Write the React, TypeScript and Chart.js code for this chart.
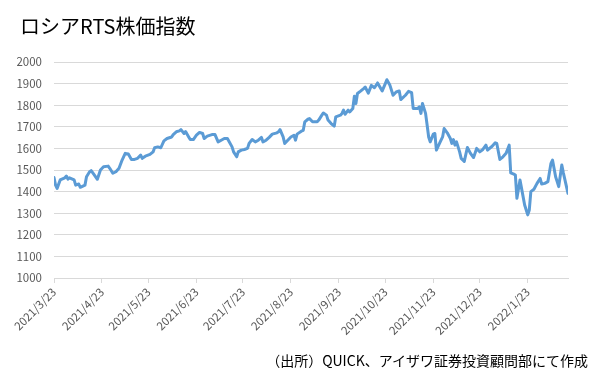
import React, { useEffect, useRef } from "react";
import { Chart, registerables } from "chart.js";

Chart.register(...registerables);

const chartTitle = "ロシアRTS株価指数";
const sourceNote = "（出所）QUICK、アイザワ証券投資顧問部にて作成";

const axisStart = "2021/3/23";
const axisEnd = "2022/2/18";

const tickLabels = [
  "2021/3/23", "2021/4/23", "2021/5/23", "2021/6/23", "2021/7/23", "2021/8/23",
  "2021/9/23", "2021/10/23", "2021/11/23", "2021/12/23", "2022/1/23",
];

const dates = [
  "2021/3/23", "2021/3/24", "2021/3/25", "2021/3/27", "2021/3/30", "2021/3/31", "2021/4/1", "2021/4/2",
  "2021/4/5", "2021/4/6", "2021/4/8", "2021/4/9", "2021/4/12", "2021/4/13", "2021/4/15", "2021/4/16",
  "2021/4/18", "2021/4/20", "2021/4/22", "2021/4/24", "2021/4/27", "2021/4/28", "2021/4/30", "2021/5/2",
  "2021/5/4", "2021/5/6", "2021/5/8", "2021/5/10", "2021/5/12", "2021/5/14", "2021/5/16", "2021/5/18",
  "2021/5/19", "2021/5/21", "2021/5/24", "2021/5/26", "2021/5/27", "2021/5/29", "2021/5/31", "2021/6/2",
  "2021/6/4", "2021/6/7", "2021/6/8", "2021/6/10", "2021/6/12", "2021/6/13", "2021/6/15", "2021/6/16",
  "2021/6/18", "2021/6/19", "2021/6/21", "2021/6/23", "2021/6/25", "2021/6/27", "2021/6/28", "2021/6/30",
  "2021/7/3", "2021/7/5", "2021/7/7", "2021/7/9", "2021/7/11", "2021/7/13", "2021/7/16", "2021/7/17",
  "2021/7/19", "2021/7/20", "2021/7/22", "2021/7/24", "2021/7/26", "2021/7/27", "2021/7/29", "2021/7/31",
  "2021/8/2", "2021/8/4", "2021/8/5", "2021/8/7", "2021/8/9", "2021/8/11", "2021/8/14", "2021/8/15",
  "2021/8/16", "2021/8/18", "2021/8/19", "2021/8/21", "2021/8/23", "2021/8/25", "2021/8/26", "2021/8/27",
  "2021/8/30", "2021/8/31", "2021/9/1", "2021/9/3", "2021/9/4", "2021/9/6", "2021/9/9", "2021/9/10",
  "2021/9/12", "2021/9/13", "2021/9/15", "2021/9/16", "2021/9/18", "2021/9/20", "2021/9/21", "2021/9/24",
  "2021/9/25", "2021/9/26", "2021/9/27", "2021/9/29", "2021/9/30", "2021/10/2", "2021/10/3", "2021/10/4",
  "2021/10/5", "2021/10/7", "2021/10/9", "2021/10/10", "2021/10/12", "2021/10/14", "2021/10/16", "2021/10/18",
  "2021/10/21", "2021/10/23", "2021/10/24", "2021/10/26", "2021/10/28", "2021/10/30", "2021/11/1", "2021/11/2",
  "2021/11/5", "2021/11/7", "2021/11/9", "2021/11/10", "2021/11/13", "2021/11/14", "2021/11/15", "2021/11/16",
  "2021/11/18", "2021/11/19", "2021/11/20", "2021/11/21", "2021/11/23", "2021/11/24", "2021/11/25", "2021/11/27",
  "2021/11/29", "2021/11/30", "2021/12/2", "2021/12/4", "2021/12/5", "2021/12/6", "2021/12/7", "2021/12/8",
  "2021/12/10", "2021/12/11", "2021/12/13", "2021/12/15", "2021/12/17", "2021/12/19", "2021/12/21", "2021/12/23",
  "2021/12/25", "2021/12/27", "2021/12/28", "2021/12/31", "2022/1/2", "2022/1/3", "2022/1/5", "2022/1/7",
  "2022/1/9", "2022/1/11", "2022/1/12", "2022/1/14", "2022/1/15", "2022/1/16", "2022/1/18", "2022/1/19",
  "2022/1/21", "2022/1/23", "2022/1/24", "2022/1/25", "2022/1/27", "2022/1/29", "2022/1/31", "2022/2/1",
  "2022/2/3", "2022/2/5", "2022/2/7", "2022/2/8", "2022/2/10", "2022/2/11", "2022/2/12", "2022/2/14",
  "2022/2/15", "2022/2/18",
];

const values = [
  1465, 1430, 1415, 1454, 1464, 1472, 1458, 1464,
  1454, 1430, 1435, 1420, 1430, 1469, 1492, 1497,
  1477, 1457, 1500, 1515, 1518, 1508, 1485, 1492,
  1508, 1546, 1577, 1574, 1549, 1549, 1554, 1569,
  1554, 1564, 1572, 1584, 1603, 1607, 1603, 1635,
  1646, 1653, 1664, 1677, 1681, 1687, 1669, 1678,
  1653, 1641, 1641, 1661, 1674, 1669, 1646, 1657,
  1664, 1664, 1630, 1638, 1646, 1646, 1607, 1584,
  1561, 1584, 1592, 1595, 1600, 1623, 1641, 1630,
  1638, 1651, 1630, 1638, 1651, 1666, 1672, 1677,
  1687, 1653, 1623, 1638, 1653, 1661, 1638, 1666,
  1681, 1684, 1723, 1735, 1738, 1723, 1723, 1731,
  1754, 1764, 1754, 1731, 1715, 1703, 1746, 1754,
  1762, 1777, 1758, 1777, 1769, 1785, 1841, 1808,
  1854, 1865, 1877, 1884, 1856, 1892, 1881, 1903,
  1866, 1900, 1918, 1892, 1846, 1861, 1866, 1826,
  1846, 1864, 1858, 1785, 1785, 1792, 1762, 1808,
  1762, 1708, 1653, 1630, 1666, 1669, 1592, 1623,
  1653, 1692, 1672, 1646, 1623, 1641, 1615, 1630,
  1584, 1554, 1540, 1604, 1577, 1558, 1600, 1584,
  1595, 1615, 1592, 1610, 1626, 1623, 1549, 1561,
  1577, 1615, 1487, 1481, 1477, 1369, 1454, 1415,
  1338, 1292, 1315, 1400, 1411, 1438, 1461, 1435,
  1438, 1446, 1531, 1546, 1469, 1446, 1423, 1523,
  1487, 1392,
];

const yMin = 1000;
const yMax = 2000;
const yStep = 100;

function dayOffset(s: string): number {
  const [y, m, d] = s.split("/").map(Number);
  const [by, bm, bd] = axisStart.split("/").map(Number);
  return Math.round((Date.UTC(y, m - 1, d) - Date.UTC(by, bm - 1, bd)) / 86400000);
}

const labelFont = { family: "'Noto Sans CJK JP', 'Noto Sans', sans-serif", size: 11.5 };
const labelColor = "#595959";
const gridColor = "#d9d9d9";

export default function App() {
  const canvasRef = useRef<HTMLCanvasElement | null>(null);

  useEffect(() => {
    const canvas = canvasRef.current;
    if (!canvas) return;
    const points = dates.map((d, i) => ({ x: dayOffset(d), y: values[i] }));
    const tickPositions = tickLabels.map(dayOffset);
    const labelByPos: Record<number, string> = {};
    tickLabels.forEach((t, i) => (labelByPos[tickPositions[i]] = t));

    const chart = new Chart(canvas, {
      type: "line",
      data: {
        datasets: [
          {
            label: chartTitle,
            data: points,
            borderColor: "#5b9bd5",
            backgroundColor: "#5b9bd5",
            borderWidth: 3,
            pointRadius: 0,
            tension: 0,
            borderJoinStyle: "round",
            borderCapStyle: "round",
          },
        ],
      },
      options: {
        responsive: false,
        animation: false,
        layout: { padding: { left: 0, right: 23, top: 62, bottom: 0 } },
        plugins: {
          legend: { display: false },
          title: { display: false },
          tooltip: { enabled: false },
        },
        scales: {
          x: {
            type: "linear",
            min: 0,
            max: dayOffset(axisEnd),
            afterBuildTicks: (scale: any) => {
              scale.ticks = tickPositions.map((v) => ({ value: v }));
            },
            afterFit: (scale: any) => {
              scale.height = 102;
            },
            ticks: {
              autoSkip: false,
              maxRotation: 45,
              minRotation: 45,
              padding: 2,
              color: labelColor,
              font: labelFont,
              callback: (v: any) => labelByPos[v as number] ?? "",
            },
            grid: {
              drawOnChartArea: false,
              drawTicks: true,
              tickLength: 5,
              color: gridColor,
            },
            border: { display: true, color: gridColor, width: 1 },
          },
          y: {
            min: yMin,
            max: yMax,
            afterFit: (scale: any) => {
              scale.width = 54;
            },
            ticks: {
              stepSize: yStep,
              padding: 12,
              color: labelColor,
              font: labelFont,
              callback: (v: any) => String(v),
            },
            grid: {
              color: gridColor,
              drawTicks: false,
            },
            border: { display: false },
          },
        },
      },
    } as any);
    return () => chart.destroy();
  }, []);

  return (
    <div style={{ position: "fixed", left: 0, top: 0, width: 591, height: 380, background: "#fff", overflow: "hidden" }}>
      <canvas ref={canvasRef} width={591} height={380} style={{ position: "absolute", left: 0, top: 0 }} />
      <div
        style={{
          position: "absolute",
          left: 20,
          top: 15,
          fontFamily: "'Noto Sans CJK JP', sans-serif",
          fontSize: 20,
          lineHeight: "22px",
          color: "#000",
          whiteSpace: "nowrap",
        }}
      >
        {chartTitle}
      </div>
      <div
        style={{
          position: "absolute",
          right: 3,
          top: 351,
          fontFamily: "'Noto Sans CJK JP', sans-serif",
          fontSize: 14,
          lineHeight: "18px",
          color: "#000",
          whiteSpace: "nowrap",
        }}
      >
        {sourceNote}
      </div>
    </div>
  );
}
